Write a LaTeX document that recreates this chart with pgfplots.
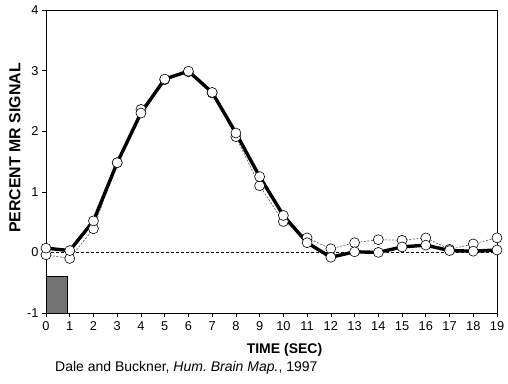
\documentclass[border=0pt]{standalone}
\usepackage{pgfplots}
\pgfplotsset{compat=1.18}
\usepackage{fontspec}
\setmainfont{Liberation Sans}
\pgfplotstableread{
x y
0 -0.04
1 -0.10
2 0.39
3 1.48
4 2.36
5 2.85
6 2.98
7 2.63
8 1.91
9 1.10
10 0.51
11 0.24
12 0.06
13 0.16
14 0.21
15 0.20
16 0.24
17 0.05
18 0.14
19 0.24
}\dashedtab
\pgfplotstableread{
x y
0 0.07
1 0.03
2 0.52
3 1.48
4 2.30
5 2.86
6 2.99
7 2.64
8 1.97
9 1.25
10 0.61
11 0.16
12 -0.08
13 0.01
14 0.00
15 0.09
16 0.12
17 0.03
18 0.02
19 0.04
}\thicktab
\begin{document}
\begin{tikzpicture}[x=1pt,y=1pt]
\useasboundingbox (0,0) rectangle (508,383);
\begin{axis}[
  at={(46pt,70pt)}, anchor=south west,
  scale only axis, width=451pt, height=303pt,
  xmin=0, xmax=19, ymin=-1, ymax=4,
  xtick={0,1,...,19}, ytick={-1,0,1,2,3,4},
  tick align=outside, xtick pos=bottom, ytick pos=left,
  major tick length=4pt,
  tick style={black, line width=0.6pt},
  axis line style={line width=0.8pt},
  /pgf/number format/assume math mode=true,
  ticklabel style={font=\fontsize{12.8}{14}\selectfont},
  xticklabel style={yshift=-1pt},
  clip=false,
]
\addplot[fill=black!55, draw=black, line width=0.6pt] coordinates {(0,-1) (0,-0.4) (0.88,-0.4) (0.88,-1)} -- cycle;
\addplot[black, line width=0.5pt, dash pattern=on 2.5pt off 2.5pt] coordinates {(0,0) (19,0)};
\addplot[gray!80!black, line width=0.7pt, dash pattern=on 2pt off 1.5pt, mark=none] table {\dashedtab};
\addplot[black, line width=3.4pt, mark=none] table {\thicktab};
\addplot[only marks, mark=*, mark size=5pt, mark options={solid, fill=white, draw=black, line width=0.6pt}] table {\dashedtab};
\addplot[only marks, mark=*, mark size=5pt, mark options={solid, fill=white, draw=black, line width=0.6pt}] table {\thicktab};
\end{axis}
\node[font=\fontsize{14}{16}\selectfont\bfseries] at (284.5,33) {TIME (SEC)};
\node[font=\fontsize{15.9}{18}\selectfont\bfseries, rotate=90] at (15,235) {PERCENT MR SIGNAL};
\node[font=\fontsize{14}{16}\selectfont, anchor=west, inner sep=0pt] at (55,15) {Dale and Buckner, \textit{Hum.\ Brain Map.}, 1997};
\end{tikzpicture}
\end{document}
